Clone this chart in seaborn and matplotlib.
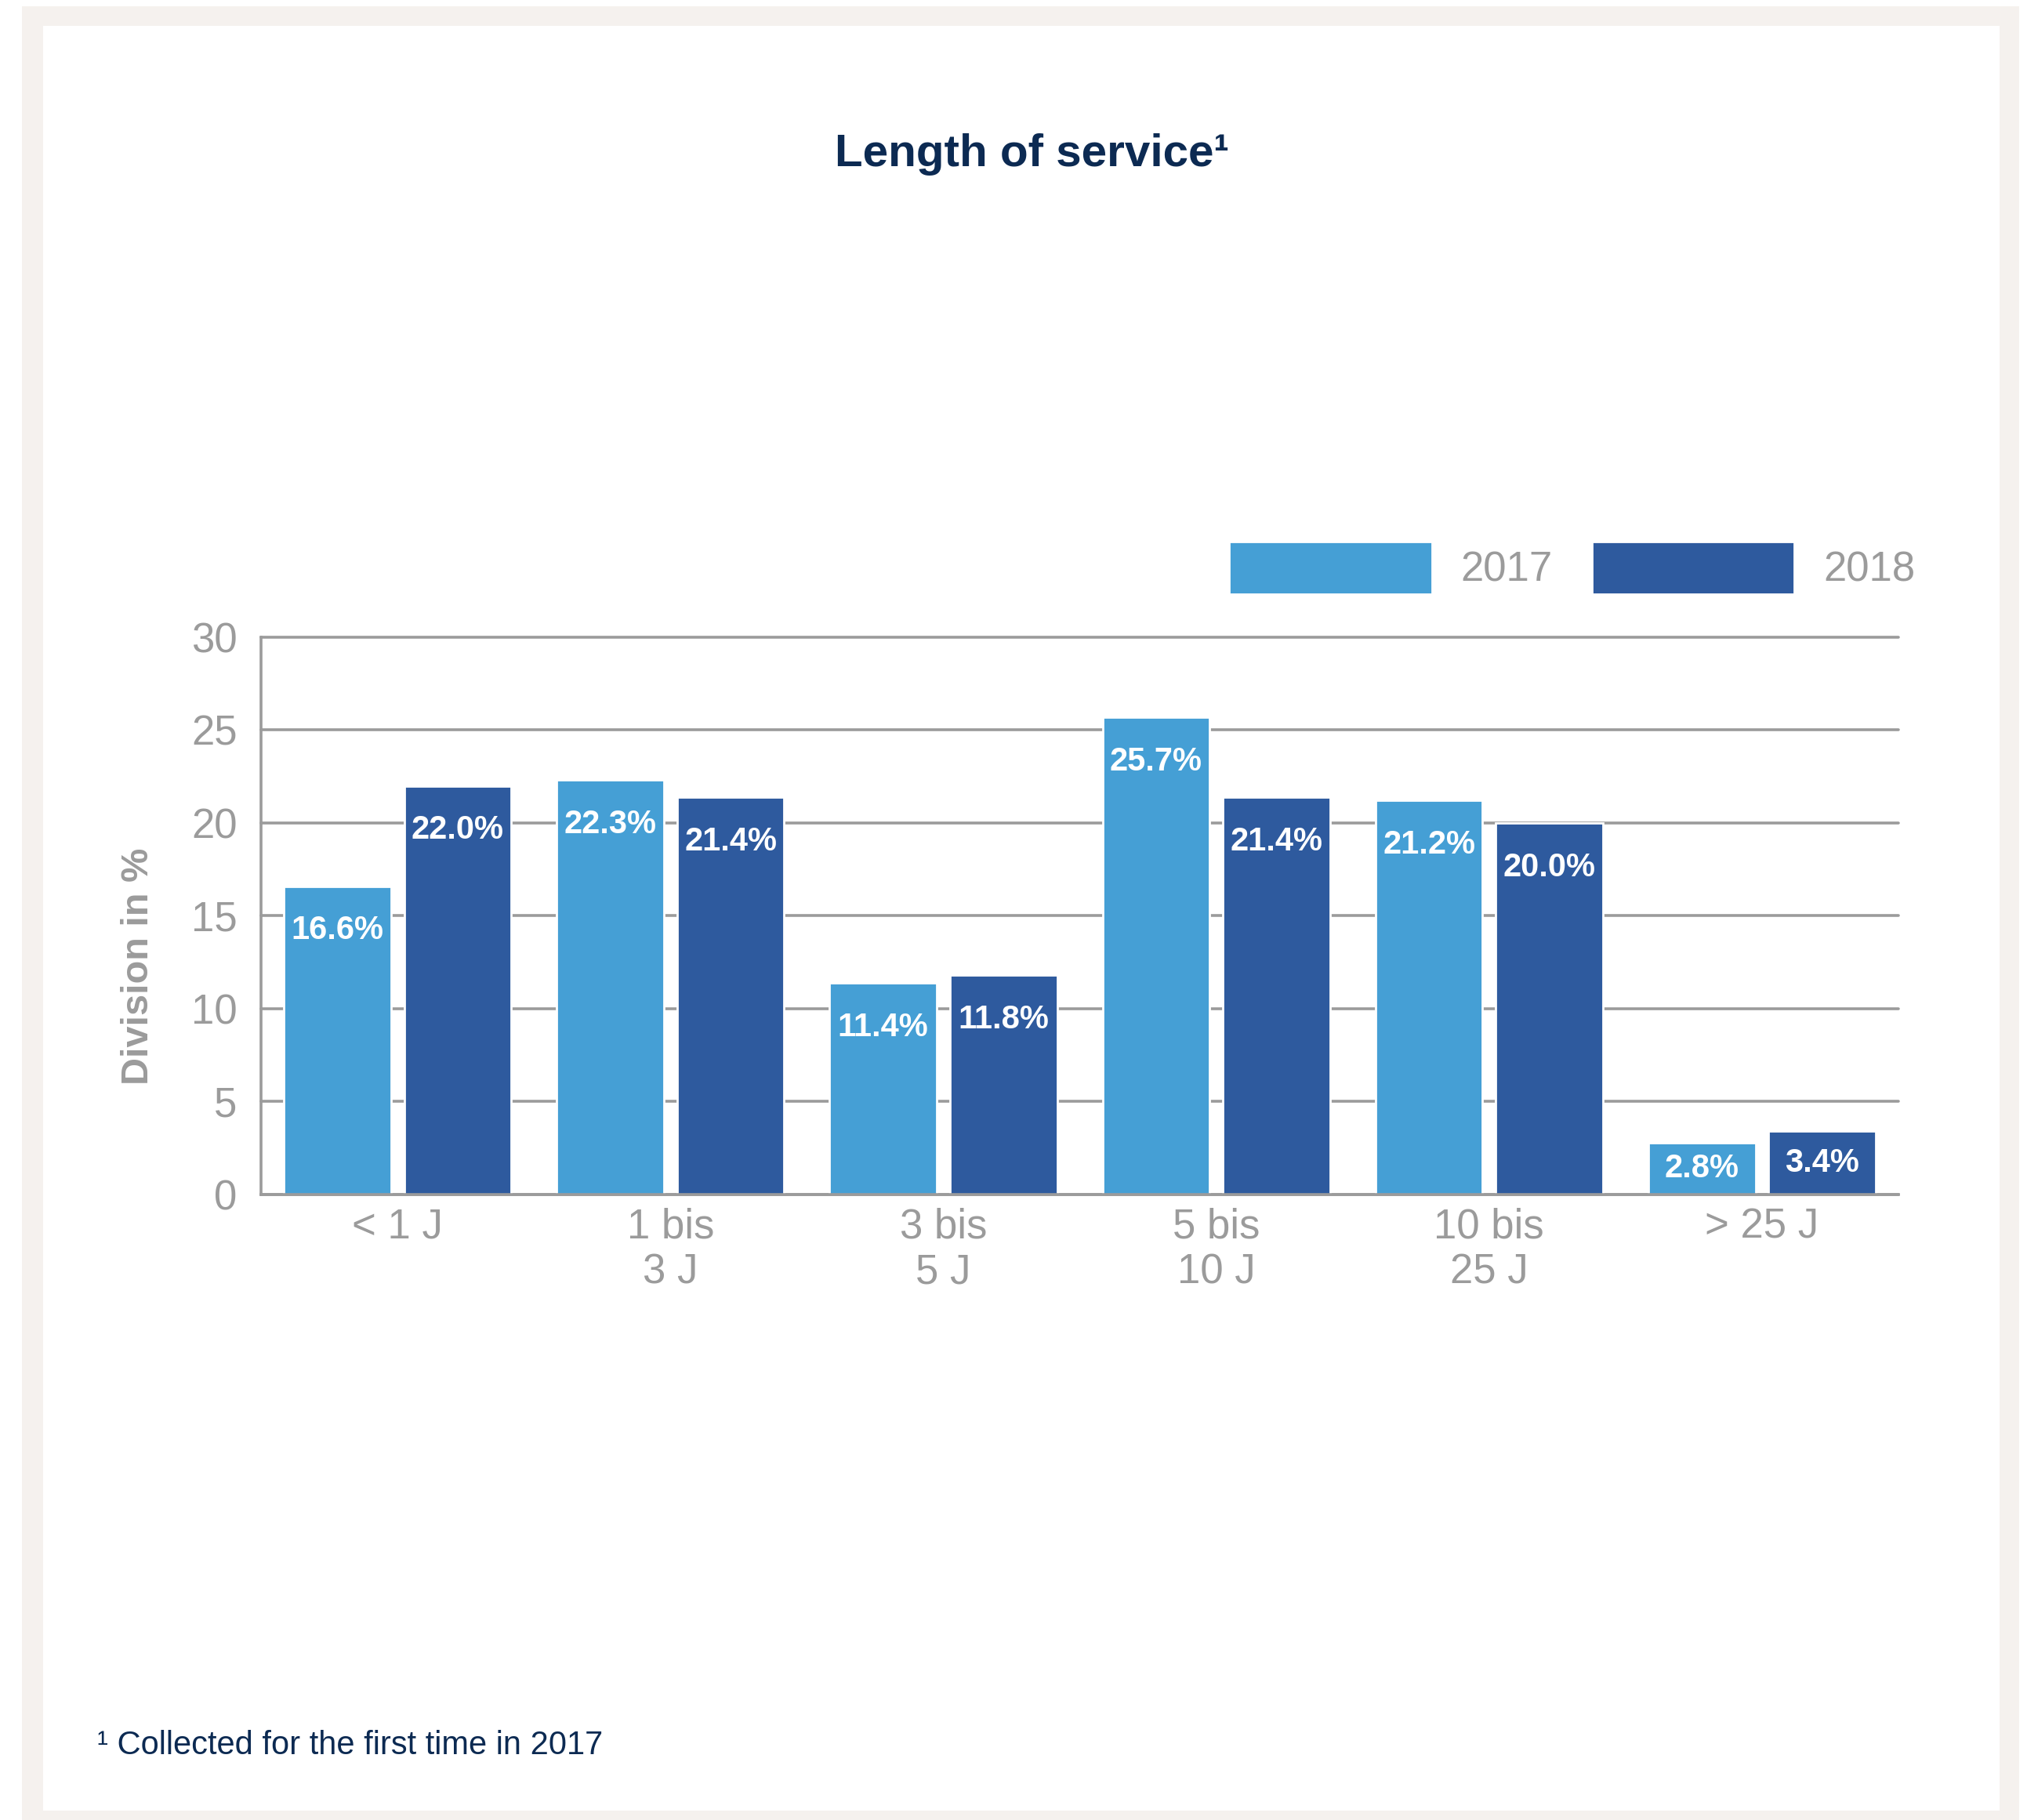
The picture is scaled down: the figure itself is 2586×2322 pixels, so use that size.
import pandas as pd
import seaborn as sns
import matplotlib.pyplot as plt
from matplotlib.patches import Rectangle

# values
categories = ["< 1 J", "1 bis\n3 J", "3 bis\n5 J", "5 bis\n10 J", "10 bis\n25 J", "> 25 J"]
years = ["2017", "2018"]
share_2017 = [16.6, 22.3, 11.4, 25.7, 21.2, 2.8]
share_2018 = [22.0, 21.4, 11.8, 21.4, 20.0, 3.4]

light_blue = "#459fd5"
dark_blue = "#2e5a9e"
grey = "#9b9b9b"
navy = "#0c2a52"

df = pd.DataFrame({
    "Category": categories * 2,
    "Year": [years[0]] * len(categories) + [years[1]] * len(categories),
    "Share": share_2017 + share_2018,
})

sns.set_style("white")
plt.rcParams["font.family"] = ["Liberation Sans", "DejaVu Sans"]

fig = plt.figure(figsize=(12.93, 11.61), dpi=200)

# beige frame around the white card
fig.patches.append(Rectangle((0.0108, 0.0), 0.9853, 0.9966, transform=fig.transFigure,
                             facecolor="#f5f1ee", edgecolor="none", zorder=-2))
fig.patches.append(Rectangle((0.0213, 0.0052), 0.9652, 0.9806, transform=fig.transFigure,
                             facecolor="white", edgecolor="none", zorder=-1))

ax = fig.add_axes([0.1288, 0.3437, 0.8078, 0.3062])
ax.set_facecolor("none")

sns.barplot(data=df, x="Category", y="Share", hue="Year",
            palette=[light_blue, dark_blue], saturation=1,
            width=0.882, gap=0.11, ax=ax)

ax.set_xlim(-0.5, len(categories) - 0.5)
ax.set_ylim(0, 30)
ax.set_yticks(range(0, 31, 5))
ax.set_xlabel("")
ax.set_ylabel("Division in %", fontsize=17.5, fontweight="bold", color=grey)
ax.yaxis.set_label_coords(-0.064, 0.409)

ax.tick_params(axis="y", length=0, pad=11, labelsize=19, labelcolor=grey)
ax.tick_params(axis="x", length=0, pad=6, labelsize=19, labelcolor=grey)
ax.set_xticks(range(len(categories)), categories)
# small upward ticks on the group boundaries
ax.set_xticks([i - 0.5 for i in range(len(categories) + 1)], minor=True)
ax.tick_params(axis="x", which="minor", direction="in", length=6, width=1.3, color=grey)

ax.yaxis.grid(True, color=grey, linewidth=1.3)
for gl in ax.get_ygridlines():
    gl.set_clip_on(False)
ax.set_axisbelow(True)
sns.despine(ax=ax, top=True, right=True)
for side in ["left", "bottom"]:
    ax.spines[side].set_color(grey)
    ax.spines[side].set_linewidth(1.3)

# value labels inside the bars
for container, vals in zip(ax.containers, [share_2017, share_2018]):
    for bar, v in zip(container, vals):
        x = bar.get_x() + bar.get_width() / 2
        h = bar.get_height()
        if h < 5:
            ax.text(x, h / 2, f"{v:.1f}%", ha="center", va="center",
                    color="white", fontsize=15, fontweight="bold")
        else:
            ax.annotate(f"{v:.1f}%", xy=(x, h), xytext=(0, -20.5),
                        textcoords="offset points", ha="center", va="center",
                        color="white", fontsize=15, fontweight="bold")

handles, labels = ax.get_legend_handles_labels()
ax.get_legend().remove()
leg = fig.legend(handles, labels, loc="center left", bbox_to_anchor=(0.6063, 0.688),
                 ncol=2, frameon=False, fontsize=19, borderpad=0, borderaxespad=0,
                 handlelength=4.9, handleheight=1.55, handletextpad=0.7, columnspacing=0.95)
for t in leg.get_texts():
    t.set_color(grey)

fig.text(0.509, 0.915, "Length of service¹", ha="center", va="center",
         fontsize=21, fontweight="bold", color=navy)
fig.text(0.048, 0.041, "¹ Collected for the first time in 2017", ha="left", va="center",
         fontsize=15, color=navy)

plt.savefig("out.png", dpi=200)
plt.close()
